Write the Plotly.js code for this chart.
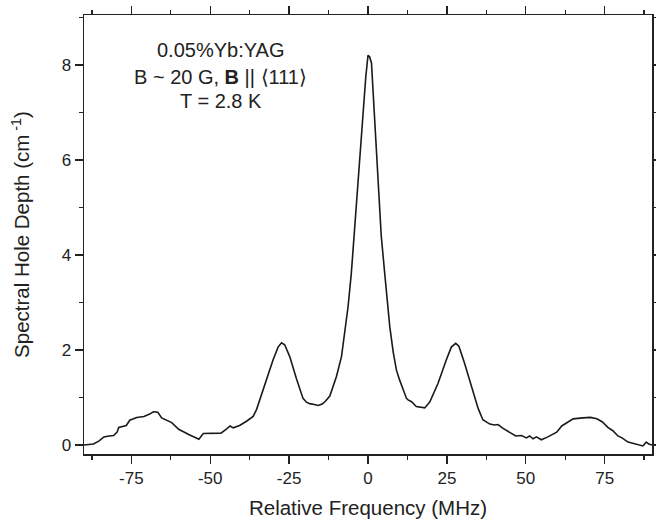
<!DOCTYPE html>
<html>
<head>
<meta charset="utf-8">
<script src="https://cdn.plot.ly/plotly-3.0.1.min.js"></script>
<style>html,body{margin:0;padding:0;background:#fff;}#chart{width:656px;height:519px;}</style>
</head>
<body>
<div id="chart"></div>
<script>
// Relative frequency (MHz)
const freq = [-90, -88.5, -87, -85.3, -83.7, -82, -80.6, -79.5, -79.0, -76.6, -75.5, -73.3, -71.0, -69.2, -68.0, -66.6, -65.4, -62.2, -60.0, -56.8, -54.6, -53.6, -52.2, -49.4, -46.6, -45.0, -43.7, -42.7, -40.7, -38.5, -36.4, -35.3, -34.3, -32.2, -30.1, -28.5, -27.4, -26.4, -24.8, -22.7, -20.6, -19.5, -18.5, -17, -15.8, -14.5, -13.5, -12.1, -10.0, -8.4, -7.4, -6.3, -5.3, -4.4, -3.2, -1.8, -0.7, 0, 0.5, 1.1, 1.6, 2.4, 3.5, 4.2, 5.3, 6.9, 8.0, 9.0, 10.0, 11.1, 12.2, 12.7, 13.8, 15.3, 16.5, 18.0, 19.6, 21.0, 22.2, 24.8, 26.4, 27.8, 28.8, 30.6, 32.8, 34.9, 36.4, 38.6, 40.1, 41.2, 42.8, 44.9, 46.8, 48.6, 50.2, 51.2, 52.3, 53.4, 54.9, 57.0, 58.6, 59.8, 61.4, 63.5, 65.0, 68.1, 70.5, 72.5, 74.2, 76.0, 77.6, 79.2, 80.5, 82.4, 85.0, 87.1, 88.2, 89.0, 90];
// Spectral hole depth (cm^-1)
const depth = [0.0, 0.01, 0.02, 0.08, 0.17, 0.19, 0.20, 0.27, 0.37, 0.41, 0.52, 0.58, 0.60, 0.65, 0.70, 0.69, 0.57, 0.47, 0.33, 0.22, 0.16, 0.12, 0.24, 0.25, 0.25, 0.33, 0.40, 0.36, 0.41, 0.50, 0.60, 0.75, 0.95, 1.37, 1.79, 2.06, 2.15, 2.11, 1.86, 1.40, 0.98, 0.90, 0.87, 0.85, 0.83, 0.86, 0.92, 1.03, 1.44, 1.86, 2.38, 2.92, 3.6, 4.4, 5.58, 6.77, 7.75, 8.2, 8.17, 8.04, 7.47, 6.42, 5.16, 4.4, 3.61, 2.49, 1.95, 1.58, 1.37, 1.16, 0.98, 0.95, 0.91, 0.81, 0.79, 0.78, 0.91, 1.12, 1.30, 1.79, 2.06, 2.14, 2.08, 1.72, 1.23, 0.77, 0.53, 0.44, 0.42, 0.43, 0.35, 0.27, 0.19, 0.20, 0.15, 0.19, 0.13, 0.17, 0.11, 0.17, 0.23, 0.27, 0.40, 0.48, 0.55, 0.57, 0.58, 0.55, 0.49, 0.37, 0.30, 0.19, 0.15, 0.06, 0.02, -0.02, 0.06, 0.02, 0.0];

const xTickVals = [-75, -50, -25, 0, 25, 50, 75];
const xTickText = ['-75', '-50', '-25', '0', '25', '50', '75'];
const yTickVals = [0, 2, 4, 6, 8];
const yTickText = ['0', '2', '4', '6', '8'];
const noteLines = ['0.05%Yb:YAG', 'B ~ 20 G, <b>B</b> || \u27E8111\u27E9', 'T = 2.8 K'];

const font = 'Liberation Sans, Arial, sans-serif';
const axisCommon = {
  showline: true, linecolor: '#222', linewidth: 1.5, mirror: 'allticks',
  ticks: 'outside', ticklen: 8, tickwidth: 1.3, tickcolor: '#222',
  showgrid: false, zeroline: false,
  tickfont: {family: font, size: 17, color: '#222'}
};

const trace = {
  x: freq, y: depth, type: 'scatter', mode: 'lines',
  line: {color: '#1a1a1a', width: 1.6}
};

const noteY = [8.32, 7.75, 7.24];
const annotations = noteLines.map((t, i) => ({
  x: -46.7, y: noteY[i], xref: 'x', yref: 'y', text: t, showarrow: false,
  xanchor: 'center', yanchor: 'middle',
  font: {family: font, size: 20, color: '#222'}
}));

const layout = {
  width: 656, height: 519,
  margin: {l: 84, r: 4, t: 15, b: 65},
  paper_bgcolor: '#fff', plot_bgcolor: '#fff',
  showlegend: false,
  xaxis: Object.assign({}, axisCommon, {
    range: [-90, 90],
    tickmode: 'array', tickvals: xTickVals, ticktext: xTickText,
    minor: {tickmode: 'linear', tick0: 0, dtick: 12.5, ticklen: 4, tickwidth: 1.3, tickcolor: '#222', ticks: 'outside', showgrid: false},
    title: {text: 'Relative Frequency (MHz)', font: {family: font, size: 20.5, color: '#222'}, standoff: 14}
  }),
  yaxis: Object.assign({}, axisCommon, {
    range: [-0.19, 9.05],
    tickmode: 'array', tickvals: yTickVals, ticktext: yTickText,
    minor: {tickmode: 'linear', tick0: 0, dtick: 1, ticklen: 4, tickwidth: 1.3, tickcolor: '#222', ticks: 'outside', showgrid: false},
    title: {text: 'Spectral Hole Depth (cm<sup> -1</sup>)', font: {family: font, size: 20.5, color: '#222'}, standoff: 26}
  }),
  annotations: annotations
};

Plotly.newPlot('chart', [trace], layout, {displayModeBar: false, staticPlot: true});
</script>
</body>
</html>
